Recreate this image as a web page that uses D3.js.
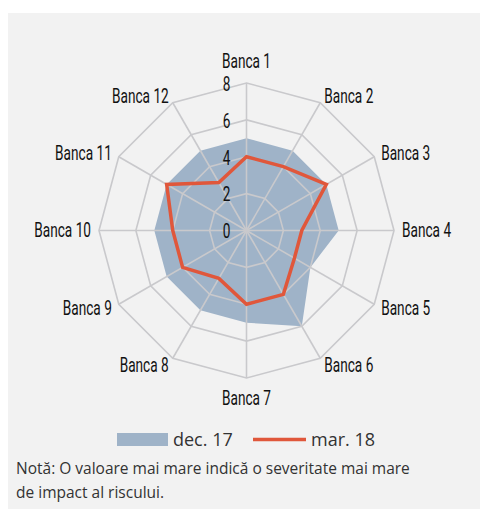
<!DOCTYPE html>
<html>
<head>
<meta charset="utf-8">
<script src="https://cdn.jsdelivr.net/npm/d3@7"></script>
<style>
  body { margin: 0; background: #fff; }
  .axis-label { font-family: Roboto, "DejaVu Sans", sans-serif; font-size: 19.5px; fill: #111; }
  .legend, .note { font-family: "Open Sans", sans-serif; fill: #333; }
</style>
</head>
<body>
<svg></svg>
<script>
var banks = ['Banca 1', 'Banca 2', 'Banca 3', 'Banca 4', 'Banca 5', 'Banca 6',
             'Banca 7', 'Banca 8', 'Banca 9', 'Banca 10', 'Banca 11', 'Banca 12'];
var dec17 = [5, 5, 5, 5, 4, 6, 5, 5, 5, 5, 5, 5];
var mar18 = [4, 4, 5, 3, 3, 4, 4, 3, 4, 4, 5, 3];
var ticks = [0, 2, 4, 6, 8];
var seriesNames = ['dec. 17', 'mar. 18'];

var width = 480, height = 509;
var cx = 246.5, cy = 230.5, R = 147.5;
var squeeze = 0.7; // narrow look for the chart labels

var svg = d3.select('svg')
    .attr('width', width)
    .attr('height', height);

svg.append('rect')
    .attr('x', 8).attr('y', 13)
    .attr('width', width - 8).attr('height', height - 13)
    .attr('fill', '#f2f2f2');

var r = d3.scaleLinear().domain([0, 8]).range([0, R]);
var angle = d3.scaleBand().domain(banks).range([0, 2 * Math.PI]).align(0).paddingInner(0).paddingOuter(0);

function pt(name, v) {
    var a = angle(name);
    return [cx + r(v) * Math.sin(a), cy - r(v) * Math.cos(a)];
}

function closed(vals) {
    return d3.line()(vals.map(function(v, i) { return pt(banks[i], v); })) + 'Z';
}

var g = svg.append('g');

// dec. 17 area
g.append('path')
    .attr('d', closed(dec17))
    .attr('fill', '#9fb3c8');

// rings
g.selectAll('.ring')
    .data(ticks.filter(function(t) { return t > 0; }))
    .enter().append('path')
    .attr('d', function(t) { return closed(banks.map(function() { return t; })); })
    .attr('fill', 'none')
    .attr('stroke', '#c9c9cc')
    .attr('stroke-width', 1.6);

// spokes
g.selectAll('.spoke')
    .data(banks)
    .enter().append('line')
    .attr('x1', cx).attr('y1', cy)
    .attr('x2', function(b) { return pt(b, 8)[0]; })
    .attr('y2', function(b) { return pt(b, 8)[1]; })
    .attr('stroke', '#c9c9cc')
    .attr('stroke-width', 1.6);

// tick labels
g.selectAll('.tick')
    .data(ticks)
    .enter().append('text')
    .attr('class', 'axis-label')
    .attr('transform', function(t) { return 'translate(' + (cx - 20) + ',' + (cy - r(t) + 1) + ') scale(' + squeeze + ',1)'; })
    .attr('dy', '0.35em')
    .attr('text-anchor', 'middle')
    .text(function(t) { return t; });

// mar. 18 line
g.append('path')
    .attr('d', closed(mar18))
    .attr('fill', 'none')
    .attr('stroke', '#e0573b')
    .attr('stroke-width', 3.5);

// axis names
g.selectAll('.name')
    .data(banks)
    .enter().append('text')
    .attr('class', 'axis-label')
    .each(function(b) {
        var a = angle(b);
        var s = Math.sin(a), c = Math.cos(a);
        var x = cx + (R + 8) * s, y = cy - (R + 8) * c;
        var anchor = 'middle';
        if (s > 0.01) anchor = 'start';
        if (s < -0.01) anchor = 'end';
        if (Math.abs(s) < 0.01) y += c > 0 ? -14 : 12;
        d3.select(this)
            .attr('transform', 'translate(' + x + ',' + y + ') scale(' + squeeze + ',1)')
            .attr('dy', '0.35em')
            .attr('text-anchor', anchor)
            .text(b);
    });

// legend
var leg = svg.append('g').attr('class', 'legend');
leg.append('rect')
    .attr('x', 117).attr('y', 433)
    .attr('width', 51).attr('height', 13)
    .attr('fill', '#9fb3c8');
leg.append('text')
    .attr('x', 173).attr('y', 446)
    .style('font-size', '18px')
    .text(seriesNames[0]);
leg.append('line')
    .attr('x1', 253).attr('x2', 306)
    .attr('y1', 439.5).attr('y2', 439.5)
    .attr('stroke', '#e0573b')
    .attr('stroke-width', 3.5);
leg.append('text')
    .attr('x', 311).attr('y', 446)
    .style('font-size', '18px')
    .text(seriesNames[1]);

// note
var note = svg.append('text')
    .attr('class', 'note')
    .style('font-size', '15.5px');
note.append('tspan').attr('x', 16).attr('y', 474)
    .text('Notă: O valoare mai mare indică o severitate mai mare');
note.append('tspan').attr('x', 16).attr('y', 498)
    .text('de impact al riscului.');
</script>
</body>
</html>
